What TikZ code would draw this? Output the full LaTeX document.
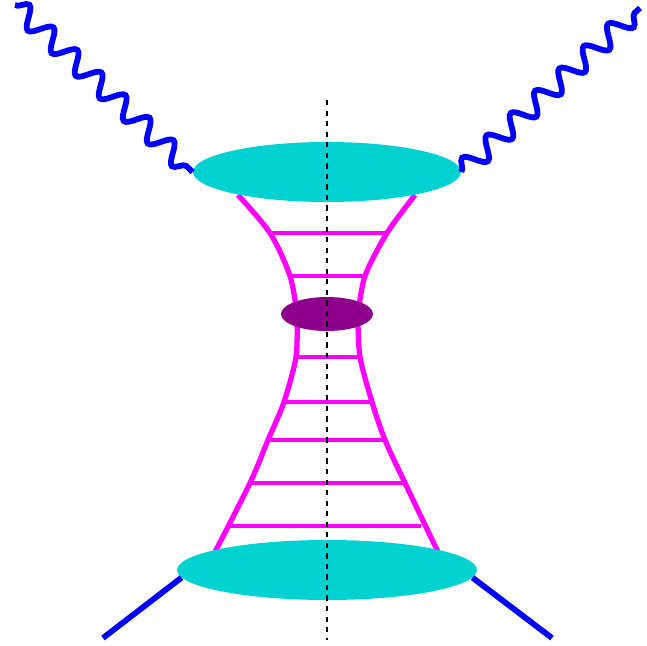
\documentclass[tikz,border=0pt]{standalone}
\usetikzlibrary{decorations.pathmorphing,shapes.geometric}
\definecolor{blobcyan}{RGB}{0,210,210}
\definecolor{softpurple}{RGB}{140,0,140}
\definecolor{ladder}{RGB}{255,0,255}
\tikzset{
    blob/.style = {
        ellipse,
        fill = blobcyan,
        inner sep = 0pt,
        },
    soft/.style = {
        ellipse,
        fill = softpurple,
        inner sep = 0pt,
        minimum width = 1.84cm,
        minimum height = 0.68cm,
        },
    photon/.style = {
        draw = blue,
        line width = 3.3pt,
        decorate,
        decoration = {snake, amplitude=0.2cm, segment length=0.66cm},
        },
    quark/.style = {
        draw = blue,
        line width = 3.3pt,
        },
    rail/.style = {
        draw = ladder,
        line width = 3pt,
        },
    rung/.style = {
        draw = ladder,
        line width = 2.6pt,
        },
}
\begin{document}
\begin{tikzpicture}[x=0.02cm, y=-0.02cm]
    \useasboundingbox (0,0) rectangle (647,646);
    % ladder rails
    \draw[rail] plot[smooth] coordinates {(238,195) (270,233) (290,276) (297,314)};
    \draw[rail] plot[smooth] coordinates {(297,320) (296,357) (284,402) (268,440) (250,483) (215,552)};
    \draw[rail] plot[smooth] coordinates {(415,195) (387,233) (365,276) (358,314)};
    \draw[rail] plot[smooth] coordinates {(358,320) (360,357) (372,402) (385,440) (405,483) (438,552)};
    % rungs
    \foreach \y/\xl/\xr in {233/270/387, 276/291/364, 357/296/360, 402/284/372, 440/268/385, 483/250/405, 526/229/421}
        \draw[rung] (\xl,\y) -- (\xr,\y);
    % blobs
    \node[blob, minimum width=5.36cm, minimum height=1.2cm] (top) at (327,172) {};
    \node[blob, minimum width=6.0cm, minimum height=1.2cm] (bot) at (327,570) {};
    \node[soft] (mid) at (327,314) {};
    % cut
    \draw[dashed, line width=1.2pt] (327,100) -- (327,640);
    % photons
    \coordinate (gl) at (15,5);
    \coordinate (gr) at (640,8);
    \path[photon] (gl) -- (top.west);
    \path[photon] (top.east) -- (gr);
    % quarks
    \coordinate (ql) at (103,638);
    \coordinate (qr) at (552,638);
    \draw[quark] (ql) -- (bot.183);
    \draw[quark] (bot.-3) -- (qr);
\end{tikzpicture}
\end{document}
